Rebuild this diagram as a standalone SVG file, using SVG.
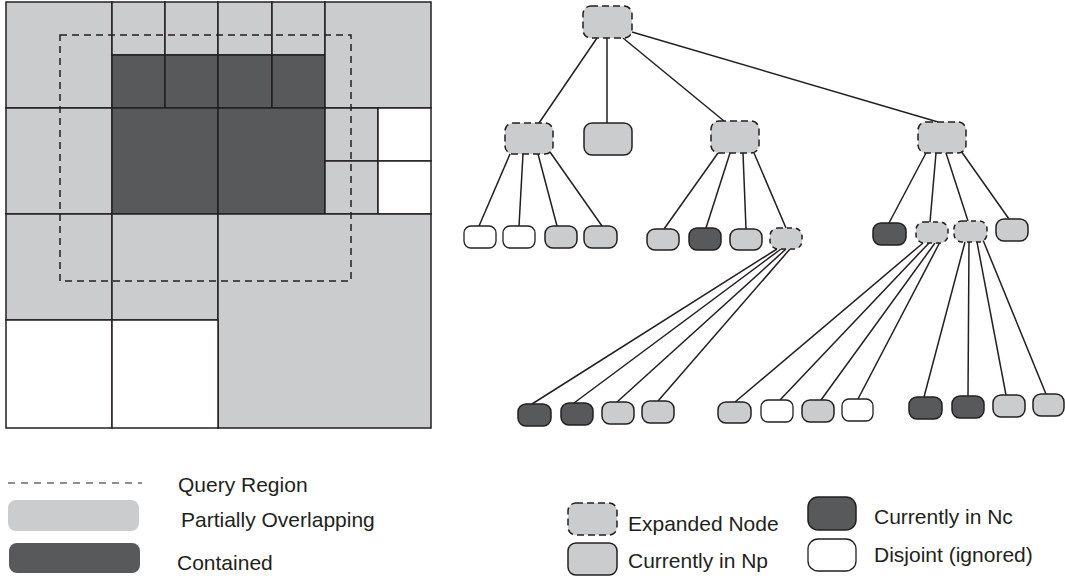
<svg xmlns="http://www.w3.org/2000/svg" width="1065" height="581" viewBox="0 0 1065 581">
<style>
.lt{fill:#cbccce}
.dk{fill:#58595b}
.wh{fill:#ffffff}
.cell{stroke:#231f20;stroke-width:1.5}
.qr{fill:none;stroke:#231f20;stroke-width:1.5;stroke-dasharray:7 5}
.n{stroke:#231f20;stroke-width:1.5}
.nw{fill:#ffffff;stroke:#231f20;stroke-width:1.3}
.ex{fill:#cbccce;stroke:#231f20;stroke-width:1.5;stroke-dasharray:7 4}
.e{stroke:#231f20;stroke-width:1.5;fill:none}
text{font-family:"Liberation Sans",Arial,sans-serif;font-size:21px;fill:#231f20}
</style>
<rect width="1065" height="581" fill="#ffffff"/>
<g id="grid">
<rect class="lt cell" x="6" y="2" width="106" height="106"/>
<rect class="lt cell" x="112" y="2" width="53" height="53"/>
<rect class="lt cell" x="165" y="2" width="53" height="53"/>
<rect class="lt cell" x="218" y="2" width="54" height="53"/>
<rect class="lt cell" x="272" y="2" width="53" height="53"/>
<rect class="dk cell" x="112" y="55" width="53" height="53"/>
<rect class="dk cell" x="165" y="55" width="53" height="53"/>
<rect class="dk cell" x="218" y="55" width="54" height="53"/>
<rect class="dk cell" x="272" y="55" width="53" height="53"/>
<rect class="lt cell" x="325" y="2" width="106" height="106"/>
<rect class="lt cell" x="6" y="108" width="106" height="106"/>
<rect class="dk cell" x="112" y="108" width="106" height="106"/>
<rect class="dk cell" x="218" y="108" width="107" height="106"/>
<rect class="lt cell" x="325" y="108" width="53" height="53"/>
<rect class="wh cell" x="378" y="108" width="53" height="53"/>
<rect class="lt cell" x="325" y="161" width="53" height="53"/>
<rect class="wh cell" x="378" y="161" width="53" height="53"/>
<rect class="lt cell" x="6" y="214" width="106" height="106"/>
<rect class="lt cell" x="112" y="214" width="106" height="106"/>
<rect class="lt cell" x="218" y="214" width="213" height="214"/>
<rect class="wh cell" x="6" y="320" width="106" height="108"/>
<rect class="wh cell" x="112" y="320" width="106" height="108"/>
<rect class="qr" x="60" y="35" width="291" height="246"/>
</g>
<g id="connectors">
<line class="e" x1="597" y1="38" x2="539" y2="123"/>
<line class="e" x1="607" y1="38" x2="607" y2="123"/>
<line class="e" x1="623" y1="38" x2="724" y2="121"/>
<line class="e" x1="632" y1="32" x2="938" y2="122"/>
<line class="e" x1="510" y1="154" x2="479" y2="226"/>
<line class="e" x1="523" y1="154" x2="519" y2="226"/>
<line class="e" x1="538" y1="154" x2="557" y2="226"/>
<line class="e" x1="550" y1="152" x2="602" y2="226"/>
<line class="e" x1="718" y1="153" x2="664" y2="229"/>
<line class="e" x1="730" y1="153" x2="706" y2="228"/>
<line class="e" x1="743" y1="153" x2="746" y2="229"/>
<line class="e" x1="754" y1="153" x2="786" y2="228"/>
<line class="e" x1="926" y1="153" x2="889" y2="223"/>
<line class="e" x1="936" y1="153" x2="930" y2="222"/>
<line class="e" x1="946" y1="153" x2="968" y2="221"/>
<line class="e" x1="961" y1="151" x2="1009" y2="219"/>
<line class="e" x1="777" y1="249" x2="532" y2="404"/>
<line class="e" x1="781" y1="249" x2="574" y2="403"/>
<line class="e" x1="786" y1="249" x2="617" y2="402"/>
<line class="e" x1="790" y1="249" x2="658" y2="401"/>
<line class="e" x1="923" y1="243" x2="735" y2="402"/>
<line class="e" x1="929" y1="243" x2="780" y2="400"/>
<line class="e" x1="935" y1="243" x2="821" y2="400"/>
<line class="e" x1="940" y1="242" x2="858" y2="399"/>
<line class="e" x1="965" y1="242" x2="924" y2="397"/>
<line class="e" x1="969" y1="242" x2="968" y2="396"/>
<line class="e" x1="977" y1="242" x2="1006" y2="395"/>
<line class="e" x1="983" y1="240" x2="1046" y2="394"/>
</g>
<g id="root"><rect class="ex" x="583" y="6" width="49" height="32" rx="8"/></g>
<g id="a"><rect class="ex" x="505" y="123" width="48" height="31" rx="8"/></g>
<g id="b"><rect class="lt n" x="584" y="123" width="48" height="32" rx="8"/></g>
<g id="c"><rect class="ex" x="711" y="121" width="48" height="32" rx="8"/></g>
<g id="d"><rect class="ex" x="918" y="122" width="48" height="31" rx="8"/></g>
<g id="a1"><rect class="nw" x="464" y="226" width="32" height="22" rx="7"/></g>
<g id="a2"><rect class="nw" x="503" y="226" width="32" height="22" rx="7"/></g>
<g id="a3"><rect class="lt n" x="545" y="226" width="32" height="22" rx="8"/></g>
<g id="a4"><rect class="lt n" x="584" y="226" width="33" height="22" rx="8"/></g>
<g id="c1"><rect class="lt n" x="647" y="229" width="32" height="21" rx="8"/></g>
<g id="c2"><rect class="dk n" x="689" y="228" width="32" height="22" rx="8"/></g>
<g id="c3"><rect class="lt n" x="730" y="229" width="32" height="21" rx="8"/></g>
<g id="c4"><rect class="ex" x="770" y="228" width="32" height="21" rx="8" style="stroke-dasharray:5 4"/></g>
<g id="d1"><rect class="dk n" x="873" y="223" width="33" height="22" rx="8"/></g>
<g id="d2"><rect class="ex" x="916" y="222" width="32" height="21" rx="8" style="stroke-dasharray:5 4"/></g>
<g id="d3"><rect class="ex" x="954" y="221" width="33" height="21" rx="8" style="stroke-dasharray:5 4"/></g>
<g id="d4"><rect class="lt n" x="996" y="219" width="32" height="22" rx="8"/></g>
<g id="c41"><rect class="dk n" x="518" y="404" width="33" height="22" rx="8"/></g>
<g id="c42"><rect class="dk n" x="561" y="403" width="32" height="22" rx="8"/></g>
<g id="c43"><rect class="lt n" x="602" y="402" width="32" height="22" rx="8"/></g>
<g id="c44"><rect class="lt n" x="642" y="401" width="32" height="22" rx="8"/></g>
<g id="d21"><rect class="lt n" x="718" y="402" width="33" height="21" rx="8"/></g>
<g id="d22"><rect class="nw" x="761" y="400" width="32" height="22" rx="7"/></g>
<g id="d23"><rect class="lt n" x="802" y="400" width="32" height="22" rx="8"/></g>
<g id="d24"><rect class="nw" x="842" y="399" width="31" height="22" rx="7"/></g>
<g id="d31"><rect class="dk n" x="909" y="397" width="33" height="22" rx="8"/></g>
<g id="d32"><rect class="dk n" x="952" y="396" width="32" height="22" rx="8"/></g>
<g id="d33"><rect class="lt n" x="993" y="395" width="32" height="22" rx="8"/></g>
<g id="d34"><rect class="lt n" x="1033" y="394" width="31" height="22" rx="8"/></g>
<g id="legend-left">
<line x1="8" y1="483" x2="142" y2="483" stroke="#231f20" stroke-width="1.2" stroke-dasharray="7 6"/>
<text x="178" y="492">Query Region</text>
<rect class="lt" x="8" y="500" width="131" height="31" rx="8"/>
<text x="181" y="527">Partially Overlapping</text>
<rect class="dk" x="9" y="543" width="131" height="30" rx="8"/>
<text x="177" y="570">Contained</text>
</g>
<g id="legend-right">
<rect class="ex" x="568" y="503" width="49" height="32" rx="8"/>
<text x="628" y="531">Expanded Node</text>
<rect class="lt n" x="568" y="543" width="49" height="32" rx="8"/>
<text x="628" y="568">Currently in Np</text>
<rect class="dk n" x="808" y="497" width="48" height="33" rx="10"/>
<text x="874" y="524">Currently in Nc</text>
<rect class="nw" x="808" y="539" width="48" height="32" rx="10"/>
<text x="874" y="562">Disjoint (ignored)</text>
</g>
</svg>
